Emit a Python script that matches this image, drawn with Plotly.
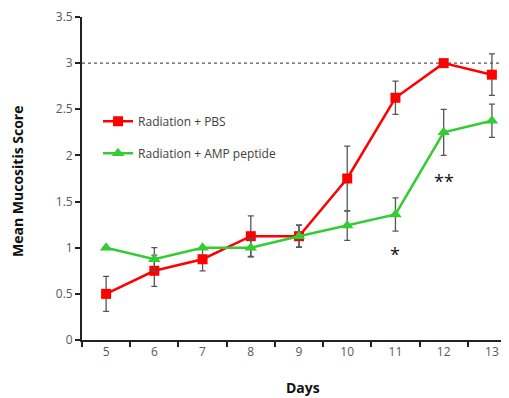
import plotly.graph_objects as go

days = [5, 6, 7, 8, 9, 10, 11, 12, 13]
pbs_mean = [0.5, 0.75, 0.875, 1.125, 1.125, 1.75, 2.625, 3.0, 2.875]
pbs_err = [0.19, 0.17, 0.125, 0.22, 0.12, 0.35, 0.18, 0.0, 0.225]
amp_mean = [1.0, 0.875, 1.0, 1.0, 1.125, 1.24, 1.36, 2.25, 2.375]
amp_err = [0.0, 0.125, 0.0, 0.1, 0.12, 0.16, 0.18, 0.25, 0.18]
y_ticks = [0, 0.5, 1, 1.5, 2, 2.5, 3, 3.5]
y_tick_text = ["0", "0.5", "1", "1.5", "2", "2.5", "3", "3.5"]
sig_days = [11, 12]
sig_y = [0.93, 1.72]
sig_text = ["*", "**"]
ref_level = 3.0

font_family = "Open Sans, Liberation Sans, sans-serif"
err_color = "#555555"

fig = go.Figure()
fig.add_trace(go.Scatter(
    x=days, y=pbs_mean, name="Radiation + PBS", mode="lines+markers",
    line=dict(color="#FF0000", width=2.5),
    marker=dict(symbol="square", size=10, color="#FF0000"),
    error_y=dict(type="data", array=pbs_err, color=err_color, thickness=1.3, width=3),
    legendgroup="a",
))
fig.add_trace(go.Scatter(
    x=days, y=amp_mean, name="Radiation + AMP peptide", mode="lines+markers",
    line=dict(color="#33CC33", width=2.5),
    marker=dict(symbol="triangle-up", size=11, color="#33CC33"),
    error_y=dict(type="data", array=amp_err, color=err_color, thickness=1.3, width=3),
    legendgroup="b",
))

fig.add_shape(type="line", xref="paper", yref="y", x0=0, x1=1, y0=ref_level, y1=ref_level,
              line=dict(color="#555555", width=1.2, dash="dot"), layer="below")

for d, yv, t in zip(sig_days, sig_y, sig_text):
    fig.add_annotation(x=d, y=yv, text=t, showarrow=False,
                       font=dict(size=18, color="#111111", family=font_family))

# axis titles as annotations for exact placement
fig.add_annotation(xref="paper", yref="paper", x=0.51, y=-0.148, yanchor="middle",
                   text="<b>Days</b>", showarrow=False,
                   font=dict(size=14, color="#111111", family=font_family))
fig.add_annotation(xref="paper", yref="paper", x=-0.147, y=0.49, textangle=-90,
                   xanchor="center", yanchor="middle",
                   text="<b>Mean Mucositis Score</b>", showarrow=False,
                   font=dict(size=14, color="#111111", family=font_family))

fig.update_layout(
    width=509, height=398,
    margin=dict(l=74, r=1, t=9, b=66, autoexpand=False),
    paper_bgcolor="white", plot_bgcolor="white",
    font=dict(family=font_family, size=12, color="#595959"),
    showlegend=True,
    legend=dict(x=0.037, y=0.722, xanchor="left", yanchor="top",
                bgcolor="rgba(0,0,0,0)", font=dict(size=12, color="#404040"),
                tracegroupgap=13, traceorder="grouped", itemwidth=30),
    xaxis=dict(
        range=[4.5, 13.5], tickmode="array", tickvals=days,
        ticktext=[str(d) for d in days],
        showgrid=False, zeroline=False, automargin=False,
        showline=True, linecolor="#222222", linewidth=1.5,
        ticks="", tickfont=dict(size=12, color="#595959"),
        ticklabeloverflow="allow",
        minor=dict(tickmode="array", tickvals=[4.5 + i for i in range(10)], ticks="outside",
                   ticklen=5, tickcolor="#222222", tickwidth=1.5),
    ),
    yaxis=dict(
        range=[0, 3.5], tickmode="array", tickvals=y_ticks, ticktext=y_tick_text,
        showgrid=False, zeroline=False, automargin=False,
        showline=True, linecolor="#222222", linewidth=1.8,
        ticks="outside", ticklen=5, tickcolor="#222222", tickwidth=1.5,
        tickfont=dict(size=12, color="#595959"),
        ticklabeloverflow="allow",
    ),
)

fig.write_html("out.html")
